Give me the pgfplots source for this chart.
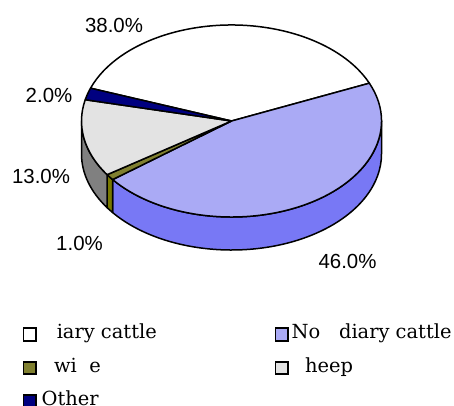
\documentclass[border=0pt]{standalone}
\usepackage{pgfplots}
\pgfplotsset{compat=1.18}
\usepackage{fontspec}
\setmainfont{DejaVu Serif}
\newfontfamily\labfont{Liberation Sans}

\definecolor{cDairy}{RGB}{255,255,255}
\definecolor{cNon}{RGB}{170,170,245}
\definecolor{cNonS}{RGB}{120,120,245}
\definecolor{cSwine}{RGB}{128,128,48}
\definecolor{cSwineS}{RGB}{120,120,0}
\definecolor{cSheep}{RGB}{227,227,227}
\definecolor{cSheepS}{RGB}{128,128,128}
\definecolor{cOther}{RGB}{0,0,128}

% data (percent)
\def\vA{38}% Dairy cattle
\def\vB{46}% Non dairy cattle
\def\vC{1}%  Swine
\def\vD{13}% Sheep
\def\vE{2}%  Other

% geometry
\def\cx{231.5}\def\cy{284}\def\rx{150}\def\ry{96}\def\dep{33}
\pgfmathsetmacro\aA{160}
\pgfmathsetmacro\aB{\aA-3.6*\vA}
\pgfmathsetmacro\aC{\aB-3.6*\vB}
\pgfmathsetmacro\aD{\aC-3.6*\vC}
\pgfmathsetmacro\aE{\aD-3.6*\vD}
\pgfmathsetmacro\aF{\aE-3.6*\vE}
\pgfmathsetmacro\xA{\cx+\rx*cos(\aA)}\pgfmathsetmacro\yA{\cy+\ry*sin(\aA)}
\pgfmathsetmacro\xB{\cx+\rx*cos(\aB)}\pgfmathsetmacro\yB{\cy+\ry*sin(\aB)}
\pgfmathsetmacro\xC{\cx+\rx*cos(\aC)}\pgfmathsetmacro\yC{\cy+\ry*sin(\aC)}
\pgfmathsetmacro\xD{\cx+\rx*cos(\aD)}\pgfmathsetmacro\yD{\cy+\ry*sin(\aD)}
\pgfmathsetmacro\xE{\cx+\rx*cos(\aE)}\pgfmathsetmacro\yE{\cy+\ry*sin(\aE)}
\pgfmathsetmacro\xR{\cx+\rx}

\begin{document}
\begin{tikzpicture}
\begin{axis}[x=1bp,y=1bp,xmin=0,xmax=454,ymin=0,ymax=405,
  axis lines=none,clip=false,ticks=none]
\pgfplotsset{every axis/.append style={}}
% side faces
\filldraw[fill=cNonS,line width=1.5bp,line join=round]
  (axis cs:\xR,\cy) arc[start angle=0,end angle=\aC,x radius=\rx bp,y radius=\ry bp]
  -- ++(0,-\dep bp) arc[start angle=\aC,end angle=0,x radius=\rx bp,y radius=\ry bp] -- cycle;
\filldraw[fill=cSwineS,line width=1.5bp,line join=round]
  (axis cs:\xC,\yC) arc[start angle=\aC,end angle=\aD,x radius=\rx bp,y radius=\ry bp]
  -- ++(0,-\dep bp) arc[start angle=\aD,end angle=\aC,x radius=\rx bp,y radius=\ry bp] -- cycle;
\filldraw[fill=cSheepS,line width=1.5bp,line join=round]
  (axis cs:\xD,\yD) arc[start angle=\aD,end angle=-180,x radius=\rx bp,y radius=\ry bp]
  -- ++(0,-\dep bp) arc[start angle=-180,end angle=\aD,x radius=\rx bp,y radius=\ry bp] -- cycle;
% top faces
\filldraw[fill=cDairy,line width=1.5bp,line join=round]
  (axis cs:\cx,\cy) -- (axis cs:\xA,\yA) arc[start angle=\aA,end angle=\aB,x radius=\rx bp,y radius=\ry bp] -- cycle;
\filldraw[fill=cNon,line width=1.5bp,line join=round]
  (axis cs:\cx,\cy) -- (axis cs:\xB,\yB) arc[start angle=\aB,end angle=\aC,x radius=\rx bp,y radius=\ry bp] -- cycle;
\filldraw[fill=cSwine,line width=1.5bp,line join=round]
  (axis cs:\cx,\cy) -- (axis cs:\xC,\yC) arc[start angle=\aC,end angle=\aD,x radius=\rx bp,y radius=\ry bp] -- cycle;
\filldraw[fill=cSheep,line width=1.5bp,line join=round]
  (axis cs:\cx,\cy) -- (axis cs:\xD,\yD) arc[start angle=\aD,end angle=\aE,x radius=\rx bp,y radius=\ry bp] -- cycle;
\filldraw[fill=cOther,line width=1.5bp,line join=round]
  (axis cs:\cx,\cy) -- (axis cs:\xE,\yE) arc[start angle=\aE,end angle=\aF,x radius=\rx bp,y radius=\ry bp] -- cycle;
% percentage labels
\begin{scope}[every node/.style={inner sep=0pt,font=\labfont\fontsize{20.5}{24}\selectfont}]
\node at (axis cs:114,379.3) {38.0\%};
\node at (axis cs:49,310) {2.0\%};
\node at (axis cs:41,228.3) {13.0\%};
\node at (axis cs:79.5,162) {1.0\%};
\node at (axis cs:347.5,143.3) {46.0\%};
\end{scope}
% legend
\begin{scope}[every node/.style={inner sep=0pt,anchor=base west,font=\fontsize{19.5}{23}\selectfont}]
\draw[fill=cDairy,line width=1.6bp] (axis cs:23.5,64.25) rectangle (axis cs:36,76.75);
\node at (axis cs:41,66.5) {\phantom{D}iary cattle};
\draw[fill=cNon,line width=1.6bp] (axis cs:275.5,64.25) rectangle (axis cs:288,76.75);
\node at (axis cs:291.5,66.5) {No\phantom{n} diary cattle};
\draw[fill=cSwine,line width=1.6bp] (axis cs:23.5,30.75) rectangle (axis cs:36,43.25);
\node at (axis cs:40.5,32.5) {\phantom{S}wi\phantom{n}e};
\draw[fill=cSheep,line width=1.6bp] (axis cs:275.5,30.75) rectangle (axis cs:288,43.25);
\node at (axis cs:291.5,32.5) {\phantom{S}heep};
\draw[fill=cOther,line width=1.6bp] (axis cs:23.5,-2.75) rectangle (axis cs:36,9.75);
\node at (axis cs:41.5,-0.5) {Other};
\end{scope}
\end{axis}
\pgfresetboundingbox
\useasboundingbox (current axis.south west) rectangle (current axis.north east);
\end{tikzpicture}
\end{document}
